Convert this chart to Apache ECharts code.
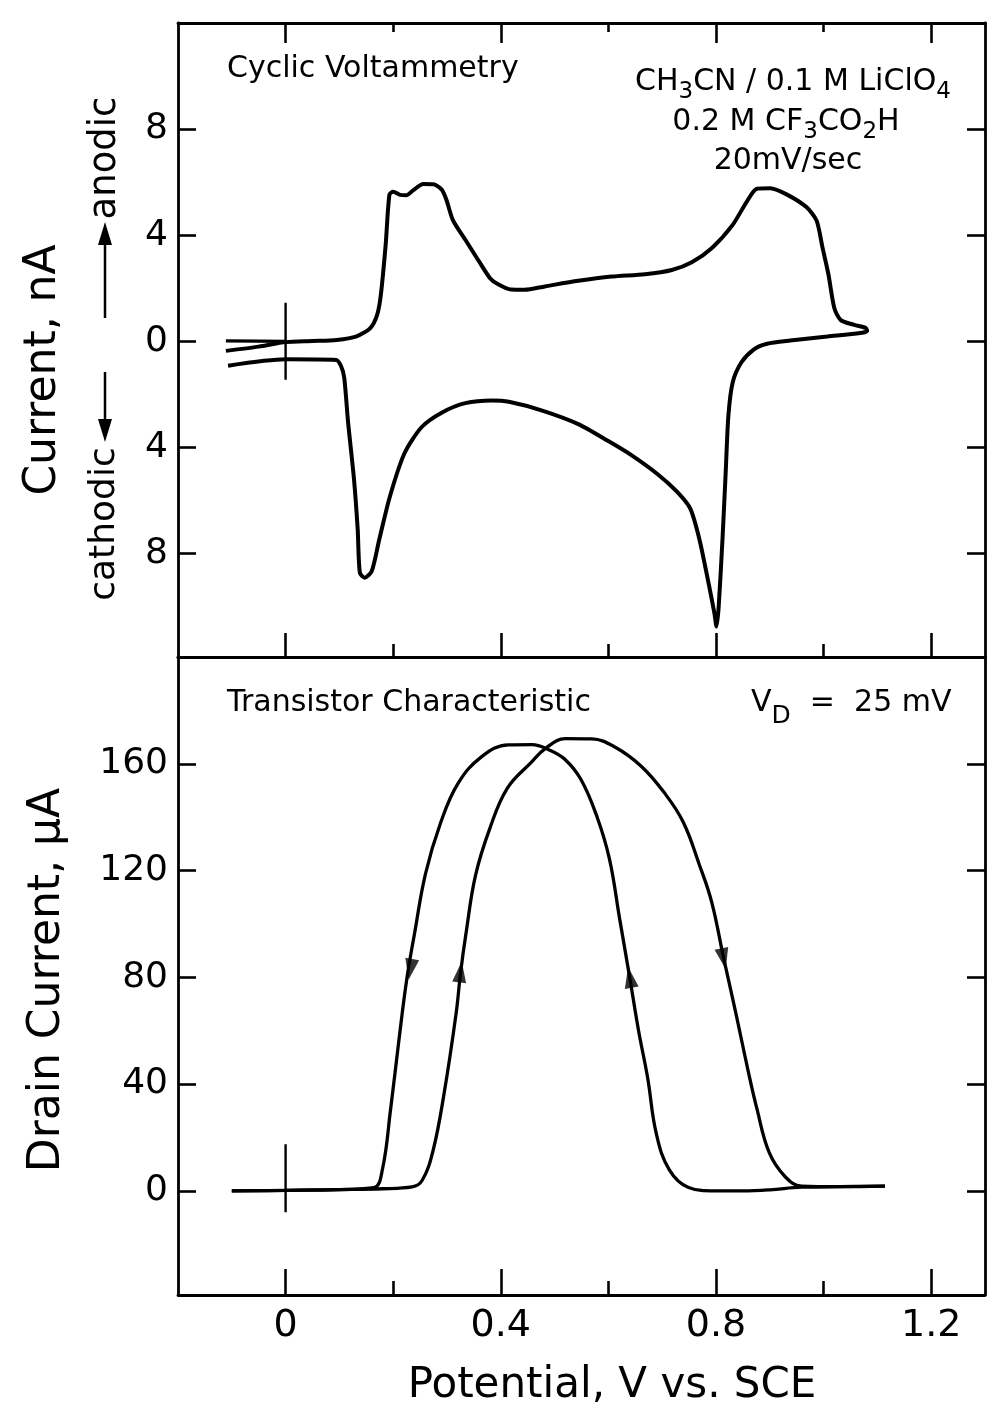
<!DOCTYPE html>
<html><head><meta charset="utf-8">
<script src="https://cdn.jsdelivr.net/npm/echarts@6/dist/echarts.min.js"></script>
<style>html,body{margin:0;padding:0;background:#fff}#c{width:995px;height:1406px}</style>
</head><body><div id="c"></div><script>
// ---------------- data ----------------
const potentialMajorTicks = [0, 0.4, 0.8, 1.2];
const potentialMinorTicks = [0.2, 0.6, 1.0];
const cvCurrentTicks = [-8, -4, 0, 4, 8];
const drainCurrentTicks = [0, 40, 80, 120, 160];

// cyclic voltammogram (potential V, current nA; anodic positive)
const cvScan = [[-0.111,-0.36],[-0.05,-0.2],[0.0,-0.03],[0.05,0.01],[0.095,0.05],[0.132,0.19],[0.157,0.49],[0.170,0.99],[0.177,1.75],[0.186,3.64],[0.193,5.53],[0.200,5.64],[0.213,5.52],[0.225,5.51],[0.237,5.69],[0.256,5.93],[0.275,5.92],[0.290,5.72],[0.299,5.33],[0.311,4.57],[0.335,3.80],[0.359,3.03],[0.380,2.38],[0.395,2.15],[0.419,1.95],[0.444,1.94],[0.482,2.07],[0.544,2.28],[0.606,2.44],[0.668,2.53],[0.718,2.69],[0.755,2.98],[0.793,3.53],[0.831,4.39],[0.857,5.26],[0.876,5.75],[0.901,5.77],[0.932,5.53],[0.968,5.06],[0.987,4.55],[0.998,3.53],[1.009,2.52],[1.020,1.25],[1.032,0.80],[1.057,0.62],[1.078,0.51],[1.081,0.39],[1.068,0.31],[1.007,0.18],[0.938,0.03],[0.895,-0.09],[0.870,-0.31],[0.847,-0.80],[0.831,-1.55],[0.823,-2.81],[0.818,-4.95],[0.812,-7.48],[0.805,-10.0],[0.801,-10.75],[0.797,-10.25],[0.786,-9.10],[0.769,-7.45],[0.752,-6.30],[0.727,-5.66],[0.691,-5.00],[0.642,-4.28],[0.599,-3.75],[0.544,-3.12],[0.477,-2.61],[0.415,-2.28],[0.384,-2.23],[0.334,-2.33],[0.291,-2.68],[0.253,-3.23],[0.221,-4.22],[0.194,-5.84],[0.174,-7.48],[0.160,-8.67],[0.147,-8.91],[0.138,-8.72],[0.134,-7.09],[0.127,-5.17],[0.116,-3.02],[0.109,-1.37],[0.103,-0.93],[0.094,-0.70],[0.0,-0.68],[-0.107,-0.92]];
const cvLead = [[-0.111,0.02],[-0.05,0.01],[0.0,0.0]];
const cvOriginMark = [[0,-1.45],[0,1.45]];

// transistor characteristic (potential V, drain current uA)
const drainForward = [[-0.10,0.0],[0.0,0.2],[0.10,0.5],[0.18,0.8],[0.235,1.5],[0.254,4.0],[0.274,15.0],[0.295,37.0],[0.317,66.6],[0.325,81.3],[0.335,96.0],[0.353,118.2],[0.380,136.0],[0.412,150.8],[0.457,160.6],[0.482,165.6],[0.520,169.4],[0.569,169.3],[0.612,166.3],[0.661,159.1],[0.703,149.4],[0.739,138.2],[0.769,122.2],[0.792,108.2],[0.814,87.4],[0.837,66.5],[0.859,45.6],[0.876,30.8],[0.899,14.3],[0.929,5.2],[0.959,1.8],[1.03,1.6],[1.114,1.8]];
const drainReverse = [[1.114,1.8],[1.03,1.6],[0.959,1.4],[0.90,0.4],[0.85,0.0],[0.798,0.0],[0.749,1.3],[0.713,8.0],[0.689,21.5],[0.673,42.3],[0.656,60.1],[0.640,79.5],[0.621,101.8],[0.602,124.3],[0.578,140.6],[0.549,154.1],[0.519,161.7],[0.490,165.2],[0.458,167.2],[0.414,167.1],[0.364,162.6],[0.320,152.5],[0.288,137.8],[0.260,118.8],[0.240,96.8],[0.225,79.0],[0.210,55.4],[0.195,30.3],[0.180,8.1],[0.164,1.2],[0.10,0.5],[0.0,0.2],[-0.10,0.0]];
const drainOriginMark = [[0,-8],[0,17.5]];
const drainArrows = [[0.232,83],[0.325,82],[0.640,80],[0.814,87]];
const drainArrowAngles = [170, -7, 10, 192];

// annotation texts (pieces: [text, isSubscript])
const solventLine = [['CH', 0], ['3', 1], ['CN / 0.1 M LiClO', 0], ['4', 1]];
const acidLine = [['0.2 M CF', 0], ['3', 1], ['CO', 0], ['2', 1], ['H', 0]];
const rateLine = [['20mV/sec', 0]];
const drainVoltageLine = [['V', 0], ['D', 1], ['  =  25 mV', 0]];

// ---------------- chart ----------------
const FONT = 'DejaVu Sans';
const BLACK = '#000';
const chart = echarts.init(document.getElementById('c'), null, {renderer: 'canvas'});

const measureCtx = document.createElement('canvas').getContext('2d');
function textWidth(t, size) {
  measureCtx.font = size + 'px "' + FONT + '"';
  return measureCtx.measureText(t).width;
}
// build text pieces with real subscripts
function subscriptText(pieces, x, y, size, subSize, drop, anchor) {
  const widths = pieces.map(p => textWidth(p[0], p[1] ? subSize : size));
  const total = widths.reduce((a, b) => a + b, 0);
  let cur = anchor === 'center' ? x - total / 2 : x;
  const els = [];
  pieces.forEach((p, i) => {
    els.push({type: 'text', x: cur, y: p[1] ? y + drop : y,
      style: {text: p[0], fontFamily: FONT, fontSize: p[1] ? subSize : size, fill: BLACK, align: 'left', verticalAlign: 'middle'}});
    cur += widths[i];
  });
  return els;
}

function xAxisDef(grid, position, ticks, len, showLine, labels) {
  return {
    type: 'value', gridIndex: grid, position: position, min: -0.2, max: 1.3,
    axisLine: {show: showLine, onZero: false, lineStyle: {color: BLACK, width: 2.8}},
    axisTick: {show: true, inside: true, length: len, customValues: ticks, lineStyle: {color: BLACK, width: 2.6}},
    axisLabel: labels ? {show: true, customValues: labels, margin: 12, color: BLACK, fontFamily: FONT, fontSize: 38,
      formatter: v => String(v)} : {show: false},
    splitLine: {show: false}
  };
}
function yAxisDef(grid, position, min, max, ticks, showLabels) {
  return {
    type: 'value', gridIndex: grid, position: position, min: min, max: max,
    axisLine: {show: true, onZero: false, lineStyle: {color: BLACK, width: 2.8}},
    axisTick: {show: true, inside: true, length: 18, customValues: ticks, lineStyle: {color: BLACK, width: 2.6}},
    axisLabel: showLabels ? {show: true, customValues: ticks, margin: 10, color: BLACK, fontFamily: FONT, fontSize: 36,
      formatter: v => String(Math.abs(v))} : {show: false},
    splitLine: {show: false}
  };
}

const lineBase = {type: 'line', showSymbol: false, symbol: 'none', silent: true, z: 5};

const graphics = [].concat(
  [{type: 'text', x: 227, y: 69, style: {text: 'Cyclic Voltammetry', fontFamily: FONT, fontSize: 30, fill: BLACK, align: 'left', verticalAlign: 'middle'}}],
  subscriptText(solventLine, 793, 82, 30, 23, 10, 'center'),
  subscriptText(acidLine, 786, 122, 30, 23, 10, 'center'),
  subscriptText(rateLine, 788, 161, 30, 23, 10, 'center'),
  [{type: 'text', x: 227, y: 703, style: {text: 'Transistor Characteristic', fontFamily: FONT, fontSize: 30, fill: BLACK, align: 'left', verticalAlign: 'middle'}}],
  subscriptText(drainVoltageLine, 751, 703, 30, 25, 13, 'left'),
  [
    {type: 'text', x: 44, y: 370, rotation: Math.PI / 2, style: {text: 'Current, nA', fontFamily: FONT, fontSize: 44, fill: BLACK, align: 'center', verticalAlign: 'middle'}},
    {type: 'text', x: 105, y: 158, rotation: Math.PI / 2, style: {text: 'anodic', fontFamily: FONT, fontSize: 37, fill: BLACK, align: 'center', verticalAlign: 'middle'}},
    {type: 'text', x: 105, y: 524, rotation: Math.PI / 2, style: {text: 'cathodic', fontFamily: FONT, fontSize: 36, fill: BLACK, align: 'center', verticalAlign: 'middle'}},
    {type: 'line', shape: {x1: 105, y1: 242, x2: 105, y2: 318}, style: {stroke: BLACK, lineWidth: 2.5}},
    {type: 'polygon', shape: {points: [[105, 222], [98, 245], [112, 245]]}, style: {fill: BLACK}},
    {type: 'line', shape: {x1: 105, y1: 372, x2: 105, y2: 422}, style: {stroke: BLACK, lineWidth: 2.5}},
    {type: 'polygon', shape: {points: [[105, 442], [98, 419], [112, 419]]}, style: {fill: BLACK}},
    {type: 'text', x: 48, y: 980, rotation: Math.PI / 2, style: {text: 'Drain Current, \u03bcA', fontFamily: FONT, fontSize: 44, fill: BLACK, align: 'center', verticalAlign: 'middle'}},
    {type: 'text', x: 612, y: 1386, style: {text: 'Potential, V vs. SCE', fontFamily: FONT, fontSize: 42, fill: BLACK, align: 'center', verticalAlign: 'middle'}}
  ]
);

const option = {
  backgroundColor: '#fff',
  animation: false,
  grid: [
    {left: 178, top: 23, width: 807, height: 634},
    {left: 178, top: 657, width: 807, height: 638}
  ],
  xAxis: [
    xAxisDef(0, 'bottom', potentialMajorTicks, 24, true, null),
    xAxisDef(0, 'bottom', potentialMinorTicks, 13, false, null),
    xAxisDef(0, 'top', potentialMajorTicks, 20, true, null),
    xAxisDef(0, 'top', potentialMinorTicks, 9, false, null),
    xAxisDef(1, 'bottom', potentialMajorTicks, 26, true, potentialMajorTicks),
    xAxisDef(1, 'bottom', potentialMinorTicks, 14, false, null),
    xAxisDef(1, 'top', [], 0, true, null)
  ],
  yAxis: [
    yAxisDef(0, 'left', -11.9, 12.0, cvCurrentTicks, true),
    yAxisDef(0, 'right', -11.9, 12.0, cvCurrentTicks, false),
    yAxisDef(1, 'left', -39, 200, drainCurrentTicks, true),
    yAxisDef(1, 'right', -39, 200, drainCurrentTicks, false)
  ],
  series: [
    Object.assign({}, lineBase, {name: 'CV', xAxisIndex: 0, yAxisIndex: 0, data: cvScan, smooth: 0.25,
      lineStyle: {color: BLACK, width: 4}}),
    Object.assign({}, lineBase, {name: 'CV lead', xAxisIndex: 0, yAxisIndex: 0, data: cvLead,
      lineStyle: {color: BLACK, width: 3.2}}),
    Object.assign({}, lineBase, {name: 'CV origin', xAxisIndex: 0, yAxisIndex: 0, data: cvOriginMark,
      lineStyle: {color: BLACK, width: 2.4}}),
    Object.assign({}, lineBase, {name: 'Forward', xAxisIndex: 4, yAxisIndex: 2, data: drainForward, smooth: 0.4,
      lineStyle: {color: BLACK, width: 3.3}}),
    Object.assign({}, lineBase, {name: 'Reverse', xAxisIndex: 4, yAxisIndex: 2, data: drainReverse, smooth: 0.4,
      lineStyle: {color: BLACK, width: 3.3}}),
    Object.assign({}, lineBase, {name: 'Drain origin', xAxisIndex: 4, yAxisIndex: 2, data: drainOriginMark,
      lineStyle: {color: BLACK, width: 2.4}}),
    {type: 'scatter', name: 'Arrows', xAxisIndex: 4, yAxisIndex: 2, silent: true, z: 6,
      symbol: 'triangle', symbolSize: [14, 21], itemStyle: {color: BLACK},
      data: drainArrows.map((p, i) => ({value: p, symbolRotate: drainArrowAngles[i]}))}
  ],
  graphic: graphics
};
chart.setOption(option);
</script></body></html>
